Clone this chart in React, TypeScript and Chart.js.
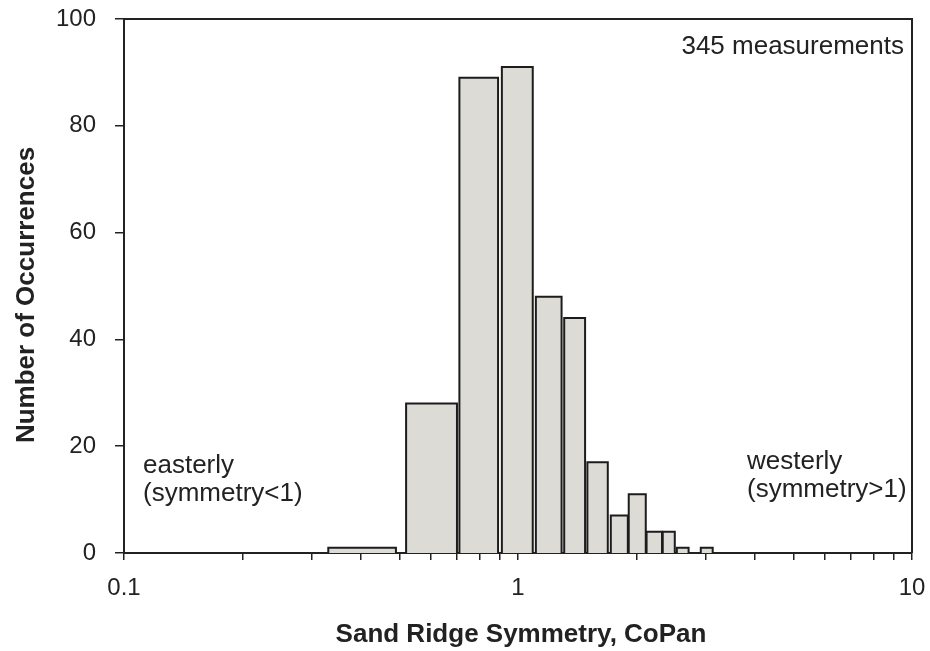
import React, { useEffect, useRef } from "react";
import { Chart, registerables } from "chart.js";

Chart.register(...registerables);

// Histogram bins (lower / upper edges of each bar) and counts
const binLo = [0.33, 0.52, 0.71, 0.91, 1.11, 1.31, 1.5, 1.72, 1.91, 2.12, 2.33, 2.53, 2.91];
const binHi = [0.49, 0.7, 0.89, 1.09, 1.29, 1.48, 1.69, 1.9, 2.11, 2.32, 2.5, 2.71, 3.12];
const counts = [1, 28, 89, 91, 48, 44, 17, 7, 11, 4, 4, 1, 1];

// Axis ticks
const xTickValues = [0.1, 0.2, 0.3, 0.4, 0.5, 0.6, 0.7, 0.8, 0.9, 1, 2, 3, 4, 5, 6, 7, 8, 9, 10];
const xTickLabels = ["0.1", "1", "10"];
const yTickValues = [0, 20, 40, 60, 80, 100];

const xTitle = "Sand Ridge Symmetry, CoPan";
const yTitle = "Number of Occurrences";
const noteTop = "345 measurements";
const noteLeft = ["easterly", "(symmetry<1)"];
const noteRight = ["westerly", "(symmetry>1)"];

const FONT = "'Liberation Sans', Arial, Helvetica, sans-serif";
const INK = "#222222";

const decorPlugin = {
  id: "decor",
  afterDraw(chart: any) {
    const { ctx, chartArea } = chart;
    const { left, right, top, bottom } = chartArea;
    ctx.save();
    // frame top & right
    ctx.strokeStyle = INK;
    ctx.lineWidth = 2;
    ctx.beginPath();
    ctx.moveTo(left, top);
    ctx.lineTo(right, top);
    ctx.lineTo(right, bottom);
    ctx.stroke();

    ctx.fillStyle = INK;
    // annotations
    ctx.font = `26px ${FONT}`;
    ctx.textBaseline = "alphabetic";
    ctx.textAlign = "right";
    ctx.fillText(noteTop, 904, 54);
    ctx.textAlign = "left";
    ctx.fillText(noteLeft[0], 143, 473);
    ctx.fillText(noteLeft[1], 143, 501);
    ctx.fillText(noteRight[0], 747, 469);
    ctx.fillText(noteRight[1], 747, 497);

    // axis titles
    ctx.font = `bold 26px ${FONT}`;
    ctx.textAlign = "center";
    ctx.textBaseline = "middle";
    ctx.fillText(xTitle, 521, 635);
    ctx.translate(27, 295);
    ctx.rotate(-Math.PI / 2);
    ctx.fillText(yTitle, 0, 0);
    ctx.restore();
  },
};

export default function App() {
  const ref = useRef<HTMLCanvasElement | null>(null);

  useEffect(() => {
    if (!ref.current) return;
    const datasets = counts.map((c, i) => ({
      data: [
        { x: binLo[i], y: 0 },
        { x: binLo[i], y: c },
        { x: binHi[i], y: c },
        { x: binHi[i], y: 0 },
      ],
      fill: "origin",
      backgroundColor: "#dcdbd6",
      borderColor: "#1c1c1c",
      borderWidth: 2,
      pointRadius: 0,
      tension: 0,
    }));

    const chart = new Chart(ref.current, {
      type: "line",
      data: { datasets } as any,
      plugins: [decorPlugin],
      options: {
        animation: false,
        responsive: true,
        maintainAspectRatio: false,
        layout: { padding: { top: 19, right: 18, left: 0, bottom: 0 } },
        plugins: {
          legend: { display: false },
          tooltip: { enabled: false },
        },
        scales: {
          x: {
            type: "logarithmic",
            min: 0.1,
            max: 10,
            afterBuildTicks: (scale: any) => {
              scale.ticks = xTickValues.map((v) => ({ value: v }));
            },
            afterFit: (scale: any) => {
              scale.height = 98;
              scale.paddingLeft = 0;
              scale.paddingRight = 0;
              scale.paddingTop = 0;
              scale.paddingBottom = 0;
            },
            grid: {
              drawOnChartArea: false,
              drawTicks: true,
              tickLength: 7,
              color: INK,
              lineWidth: 1.5,
            },
            border: { display: true, color: INK, width: 2 },
            ticks: {
              autoSkip: false,
              maxRotation: 0,
              padding: 14,
              color: INK,
              font: { family: FONT, size: 24 },
              callback: (v: any) => {
                const s = String(v);
                return xTickLabels.includes(s) ? s : "";
              },
            },
          },
          y: {
            type: "linear",
            min: 0,
            max: 100,
            afterBuildTicks: (scale: any) => {
              scale.ticks = yTickValues.map((v) => ({ value: v }));
            },
            afterFit: (scale: any) => {
              scale.width = 124;
              scale.paddingLeft = 0;
              scale.paddingRight = 0;
              scale.paddingTop = 0;
              scale.paddingBottom = 0;
            },
            grid: {
              drawOnChartArea: false,
              drawTicks: true,
              tickLength: 9,
              color: INK,
              lineWidth: 1.5,
            },
            border: { display: true, color: INK, width: 2 },
            ticks: {
              padding: 19,
              color: INK,
              font: { family: FONT, size: 24 },
            },
          },
        },
      } as any,
    });
    return () => chart.destroy();
  }, []);

  return (
    <div style={{ position: "absolute", left: 0, top: 0, width: 930, height: 651, background: "#fff" }}>
      <canvas ref={ref} />
    </div>
  );
}
